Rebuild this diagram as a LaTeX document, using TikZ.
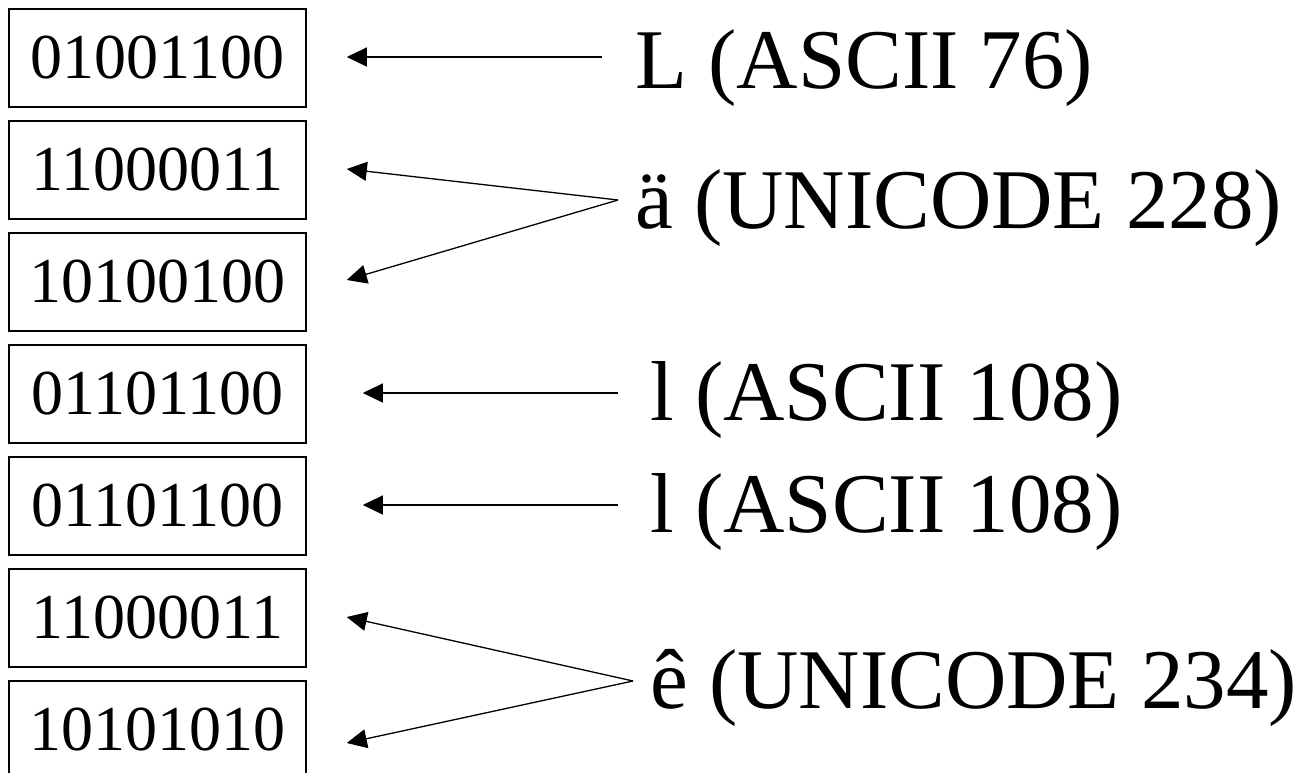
\documentclass[tikz,border=0pt]{standalone}
\usepackage{fontspec}
\setmainfont{Liberation Serif}
\usetikzlibrary{arrows.meta,calc}
\begin{document}
\begin{tikzpicture}[x=1pt,y=-1pt,
  bytebox/.style={draw, line width=1.6pt, minimum width=297pt, minimum height=98pt, inner sep=0pt, font=\fontsize{64}{70}\selectfont},
  lbl/.style={anchor=base west, inner sep=0pt, font=\fontsize{85}{90}\selectfont},
  arr/.style={line width=1.3pt, -{Triangle[length=20pt,width=19pt]}}]
\useasboundingbox (0,0) rectangle (1304,773);
\clip (0,0) rectangle (1304,773);
% byte boxes
\node[bytebox] (b1) at (157.5,58)  {01001100};
\node[bytebox] (b2) at (157.5,170) {11000011};
\node[bytebox] (b3) at (157.5,282) {10100100};
\node[bytebox] (b4) at (157.5,394) {01101100};
\node[bytebox] (b5) at (157.5,506) {01101100};
\node[bytebox] (b6) at (157.5,618) {11000011};
\node[bytebox] (b7) at (157.5,730) {10101010};
% labels
\node[lbl] (l1) at (635,89)  {L (ASCII 76)};
\node[lbl] (l2) at (635,228) {ä (UNICODE 228)};
\node[lbl] (l4) at (650,420) {l (ASCII 108)};
\node[lbl] (l5) at (650,532) {l (ASCII 108)};
\node[lbl] (l6) at (650,708) {ê (UNICODE 234)};
% arrow starts
\coordinate (s1) at (602,57);
\coordinate (s2) at (618,200);
\coordinate (s4) at (618,393);
\coordinate (s5) at (618,505);
\coordinate (s6) at (633,681);
% arrows
\draw[arr] (s1) -- ($(b1.east)+(40,-1)$);
\draw[arr] (s2) -- ($(b2.east)+(40,-1)$);
\draw[arr] (s2) -- ($(b3.east)+(40,-2)$);
\draw[arr] (s4) -- ($(b4.east)+(56,-1)$);
\draw[arr] (s5) -- ($(b5.east)+(56,-1)$);
\draw[arr] (s6) -- ($(b6.east)+(40,-1)$);
\draw[arr] (s6) -- ($(b7.east)+(40,13)$);
\end{tikzpicture}
\end{document}
